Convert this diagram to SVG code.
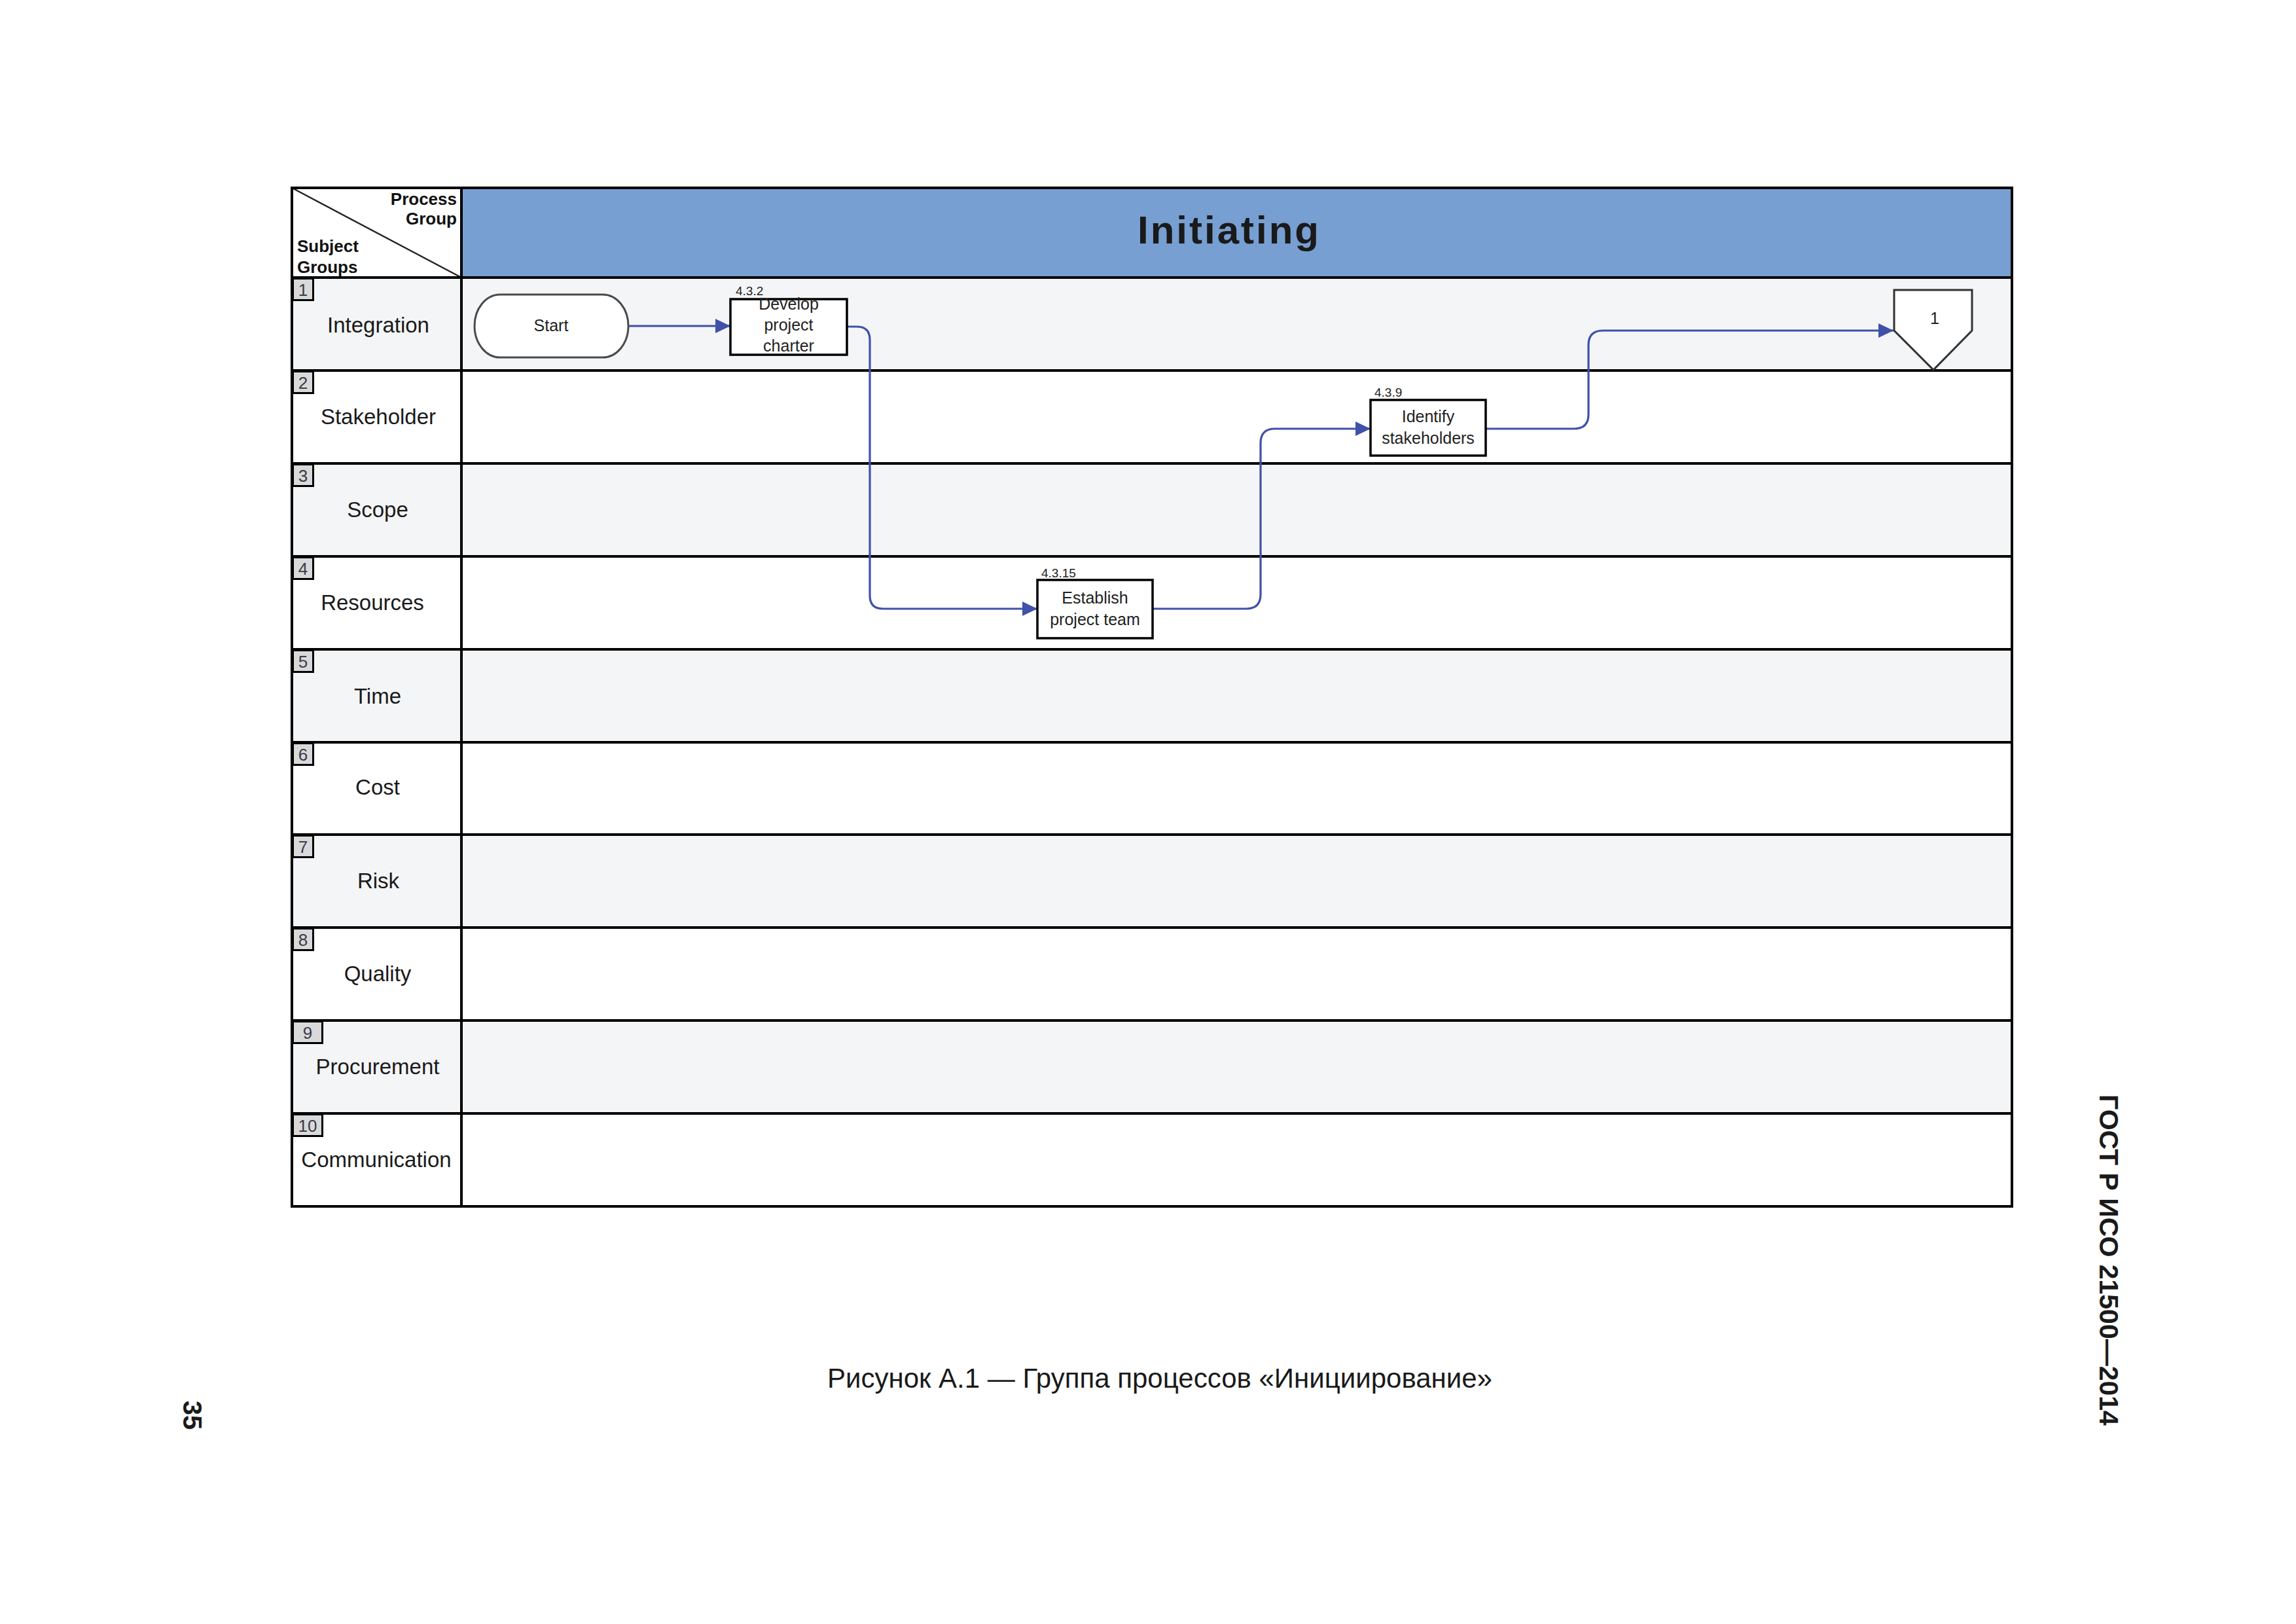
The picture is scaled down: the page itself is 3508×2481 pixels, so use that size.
<svg xmlns="http://www.w3.org/2000/svg" width="3508" height="2481" viewBox="0 0 3508 2481">
<defs>
<style>
text{font-family:"Liberation Sans",Arial,sans-serif;fill:#1a1a1a}
.lbl{font-size:33px;text-anchor:middle}
.tab{fill:#d9d9d9;stroke:#000;stroke-width:3}
.tabt{font-size:26px;fill:#3a3a4a;text-anchor:middle}
.g{fill:#f4f5f7}
.w{fill:#ffffff}
.grid{stroke:#000;stroke-width:4;fill:none}
.node{fill:#fff;stroke:#000;stroke-width:3.5}
.term{fill:#fff;stroke:#4a4a4a;stroke-width:3}
.nt{font-size:25px;text-anchor:middle;fill:#222}
.num{font-size:19px;fill:#222}
.conn{fill:none;stroke:#3f51a8;stroke-width:3.2;marker-end:url(#arr)}
.hdr{font-size:26px;font-weight:bold;fill:#111}
</style>
<marker id="arr" markerUnits="userSpaceOnUse" markerWidth="24" markerHeight="24" refX="23" refY="12" orient="auto">
<path d="M0,1 L23,12 L0,23 Z" fill="#3f51a8"/>
</marker>
</defs>
<rect width="3508" height="2481" fill="#fff"/>

<g id="rows">
<rect class="g" x="446" y="424" width="2628" height="142"/>
<rect class="w" x="446" y="566" width="2628" height="142"/>
<rect class="g" x="446" y="708" width="2628" height="142"/>
<rect class="w" x="446" y="850" width="2628" height="142"/>
<rect class="g" x="446" y="992" width="2628" height="142"/>
<rect class="w" x="446" y="1134" width="2628" height="141"/>
<rect class="g" x="446" y="1275" width="2628" height="142"/>
<rect class="w" x="446" y="1417" width="2628" height="142"/>
<rect class="g" x="446" y="1559" width="2628" height="142"/>
<rect class="w" x="446" y="1701" width="2628" height="142"/>
</g>

<g id="header">
<rect x="446" y="287" width="259" height="137" fill="#fff"/>
<rect x="705" y="287" width="2369" height="137" fill="#779fd2"/>
<line x1="446" y1="287" x2="705" y2="424" stroke="#222" stroke-width="2.5"/>
<text class="hdr" x="698" y="313" text-anchor="end">Process</text>
<text class="hdr" x="698" y="343" text-anchor="end">Group</text>
<text class="hdr" x="454" y="385">Subject</text>
<text class="hdr" x="454" y="417">Groups</text>
<text x="1878" y="372" text-anchor="middle" font-size="60" font-weight="bold" letter-spacing="3" fill="#111">Initiating</text>
</g>

<g id="grid">
<rect class="grid" x="446" y="287" width="2628" height="1556"/>
<line class="grid" x1="705" y1="287" x2="705" y2="1843"/>
<line class="grid" x1="446" y1="424" x2="3074" y2="424"/>
<line class="grid" x1="446" y1="566" x2="3074" y2="566"/>
<line class="grid" x1="446" y1="708" x2="3074" y2="708"/>
<line class="grid" x1="446" y1="850" x2="3074" y2="850"/>
<line class="grid" x1="446" y1="992" x2="3074" y2="992"/>
<line class="grid" x1="446" y1="1134" x2="3074" y2="1134"/>
<line class="grid" x1="446" y1="1275" x2="3074" y2="1275"/>
<line class="grid" x1="446" y1="1417" x2="3074" y2="1417"/>
<line class="grid" x1="446" y1="1559" x2="3074" y2="1559"/>
<line class="grid" x1="446" y1="1701" x2="3074" y2="1701"/>
</g>

<g id="subject-groups">
<g id="sg1"><rect class="tab" x="447.5" y="425.5" width="31" height="33"/><text class="tabt" x="463" y="452">1</text><text class="lbl" x="578" y="508" font-size="35">Integration</text></g>
<g id="sg2"><rect class="tab" x="447.5" y="567.5" width="31" height="33"/><text class="tabt" x="463" y="594">2</text><text class="lbl" x="578" y="648">Stakeholder</text></g>
<g id="sg3"><rect class="tab" x="447.5" y="709.5" width="31" height="33"/><text class="tabt" x="463" y="736">3</text><text class="lbl" x="577" y="790">Scope</text></g>
<g id="sg4"><rect class="tab" x="447.5" y="851.5" width="31" height="33"/><text class="tabt" x="463" y="878">4</text><text class="lbl" x="569" y="932">Resources</text></g>
<g id="sg5"><rect class="tab" x="447.5" y="993.5" width="31" height="33"/><text class="tabt" x="463" y="1020">5</text><text class="lbl" x="577" y="1075">Time</text></g>
<g id="sg6"><rect class="tab" x="447.5" y="1135.5" width="31" height="33"/><text class="tabt" x="463" y="1162">6</text><text class="lbl" x="577" y="1214">Cost</text></g>
<g id="sg7"><rect class="tab" x="447.5" y="1276.5" width="31" height="33"/><text class="tabt" x="463" y="1303">7</text><text class="lbl" x="578" y="1357">Risk</text></g>
<g id="sg8"><rect class="tab" x="447.5" y="1418.5" width="31" height="33"/><text class="tabt" x="463" y="1445">8</text><text class="lbl" x="577" y="1499">Quality</text></g>
<g id="sg9"><rect class="tab" x="447.5" y="1560.5" width="45" height="33"/><text class="tabt" x="470" y="1587">9</text><text class="lbl" x="577" y="1641">Procurement</text></g>
<g id="sg10"><rect class="tab" x="447.5" y="1702.5" width="45" height="33"/><text class="tabt" x="470" y="1729">10</text><text class="lbl" x="575" y="1783">Communication</text></g>
</g>

<g id="connectors">
<path class="conn" d="M960,498 H1116"/>
<path class="conn" d="M1294,499 H1309 Q1329,499 1329,519 V910 Q1329,930 1349,930 H1585"/>
<path class="conn" d="M1761,930 H1904 Q1926,930 1926,908 V677 Q1926,655 1948,655 H2094"/>
<path class="conn" d="M2270,655 H2405 Q2427,655 2427,633 V527 Q2427,505 2449,505 H2893"/>
</g>

<g id="start">
<path class="term" d="M764,450 H921 A39,48 0 0 1 921,546 H764 A39,48 0 0 1 764,450 Z"/>
<text class="nt" x="842" y="506" font-size="24">Start</text>
</g>

<g id="develop-project-charter">
<rect class="node" x="1116" y="457" width="178" height="85"/>
<text class="num" x="1124" y="451">4.3.2</text>
<text class="nt" x="1205" y="473">Develop</text>
<text class="nt" x="1205" y="505">project</text>
<text class="nt" x="1205" y="537">charter</text>
</g>

<g id="establish-project-team">
<rect class="node" x="1585" y="886" width="176" height="89"/>
<text class="num" x="1591" y="882">4.3.15</text>
<text class="nt" x="1673" y="922">Establish</text>
<text class="nt" x="1673" y="955">project team</text>
</g>

<g id="identify-stakeholders">
<rect class="node" x="2094" y="611" width="176" height="85"/>
<text class="num" x="2100" y="606">4.3.9</text>
<text class="nt" x="2182" y="645">Identify</text>
<text class="nt" x="2182" y="678">stakeholders</text>
</g>

<g id="offpage-1">
<path d="M2894,505 V443 H3013 V505 L2954,565 Z" fill="#fff" stroke="#333" stroke-width="3"/>
<text class="nt" x="2956" y="495" font-size="22">1</text>
</g>

<g id="page-text">
<text x="1772" y="2120" text-anchor="middle" font-size="42" fill="#000">Рисунок А.1 — Группа процессов «Инициирование»</text>
<text transform="translate(3208,1672) rotate(90)" font-size="41" font-weight="bold" fill="#000">ГОСТ Р ИСО 21500—2014</text>
<text transform="translate(280,2162) rotate(90)" text-anchor="middle" font-size="40" font-weight="bold" fill="#000">35</text>
</g>
</svg>
